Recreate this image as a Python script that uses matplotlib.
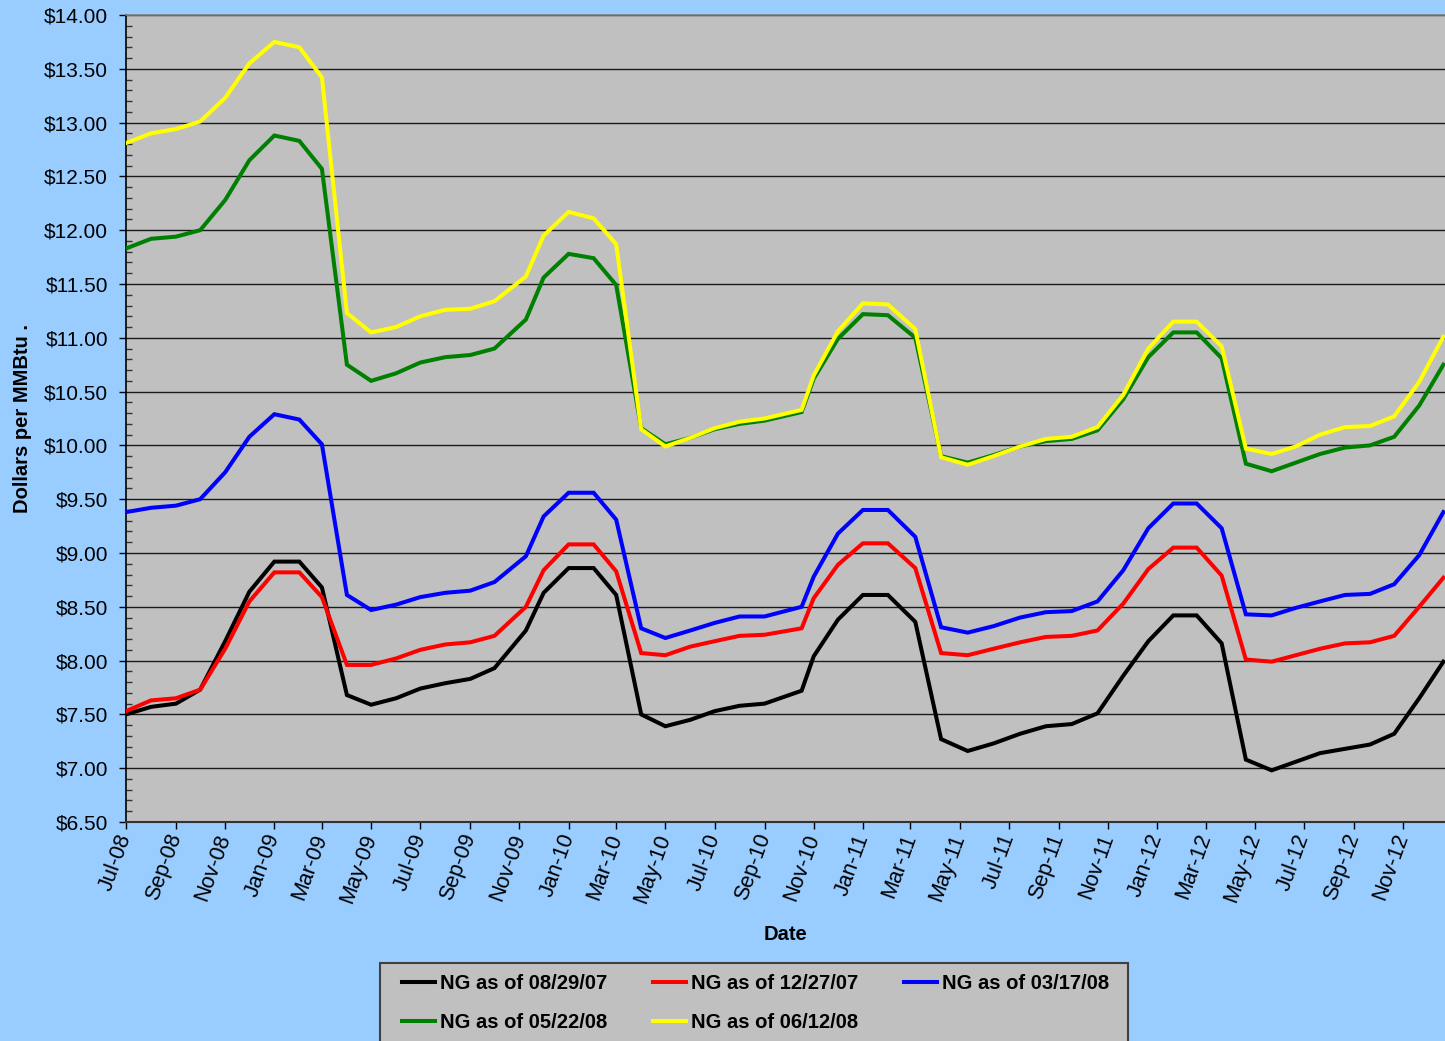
import matplotlib
matplotlib.use("Agg")
import matplotlib.pyplot as plt
import matplotlib.dates as mdates
from matplotlib.ticker import MultipleLocator, FuncFormatter
from matplotlib.patches import Rectangle
import datetime as dt

plt.rcParams['font.family'] = ['Liberation Sans', 'DejaVu Sans']

# ---- data ----
dates = [
    "2008-07-01", "2008-08-01", "2008-09-01", "2008-10-01", "2008-11-01", "2008-12-01",
    "2009-01-01", "2009-02-01", "2009-03-01", "2009-04-01", "2009-05-01", "2009-06-01",
    "2009-07-01", "2009-08-01", "2009-09-01", "2009-10-01", "2009-11-09", "2009-12-01",
    "2010-01-01", "2010-02-01", "2010-03-01", "2010-04-01", "2010-05-01", "2010-06-01",
    "2010-07-01", "2010-08-01", "2010-09-01", "2010-10-17", "2010-11-01", "2010-12-01",
    "2011-01-01", "2011-02-01", "2011-03-07", "2011-04-08", "2011-05-11", "2011-06-12",
    "2011-07-15", "2011-08-16", "2011-09-17", "2011-10-19", "2011-11-20", "2011-12-21",
    "2012-01-21", "2012-02-19", "2012-03-21", "2012-04-20", "2012-05-22", "2012-06-21",
    "2012-07-21", "2012-08-21", "2012-09-21", "2012-10-21", "2012-11-21", "2012-12-21",
]

ng_082907 = [7.50, 7.57, 7.60, 7.73, 8.18, 8.64,
             8.92, 8.92, 8.68, 7.68, 7.59, 7.65, 7.74, 7.79, 7.83, 7.93, 8.28, 8.63,
             8.86, 8.86, 8.61, 7.50, 7.39, 7.45, 7.53, 7.58, 7.60, 7.72, 8.04, 8.38,
             8.61, 8.61, 8.36, 7.27, 7.16, 7.23, 7.32, 7.39, 7.41, 7.51, 7.86, 8.18,
             8.42, 8.42, 8.16, 7.08, 6.98, 7.06, 7.14, 7.18, 7.22, 7.32, 7.65, 7.99]

ng_122707 = [7.53, 7.63, 7.65, 7.73, 8.11, 8.55,
             8.82, 8.82, 8.59, 7.96, 7.96, 8.02, 8.10, 8.15, 8.17, 8.23, 8.50, 8.84,
             9.08, 9.08, 8.83, 8.07, 8.05, 8.13, 8.18, 8.23, 8.24, 8.30, 8.58, 8.89,
             9.09, 9.09, 8.86, 8.07, 8.05, 8.11, 8.17, 8.22, 8.23, 8.28, 8.53, 8.85,
             9.05, 9.05, 8.79, 8.01, 7.99, 8.05, 8.11, 8.16, 8.17, 8.23, 8.50, 8.77]

ng_031708 = [9.38, 9.42, 9.44, 9.50, 9.75, 10.08,
             10.29, 10.24, 10.01, 8.61, 8.47, 8.52, 8.59, 8.63, 8.65, 8.73, 8.97, 9.34,
             9.56, 9.56, 9.31, 8.30, 8.21, 8.28, 8.35, 8.41, 8.41, 8.50, 8.78, 9.18,
             9.40, 9.40, 9.15, 8.31, 8.26, 8.32, 8.40, 8.45, 8.46, 8.55, 8.84, 9.23,
             9.46, 9.46, 9.23, 8.43, 8.42, 8.49, 8.55, 8.61, 8.62, 8.71, 8.98, 9.38]

ng_052208 = [11.83, 11.92, 11.94, 12.00, 12.28, 12.65,
             12.88, 12.83, 12.57, 10.75, 10.60, 10.67, 10.77, 10.82, 10.84, 10.90, 11.17, 11.56,
             11.78, 11.74, 11.49, 10.16, 10.01, 10.07, 10.15, 10.20, 10.23, 10.31, 10.62, 10.99,
             11.22, 11.21, 11.00, 9.90, 9.84, 9.91, 9.99, 10.04, 10.06, 10.14, 10.43, 10.82,
             11.05, 11.05, 10.81, 9.83, 9.76, 9.84, 9.92, 9.98, 10.00, 10.08, 10.37, 10.75]

ng_061208 = [12.81, 12.90, 12.94, 13.01, 13.23, 13.55,
             13.75, 13.70, 13.42, 11.23, 11.05, 11.10, 11.20, 11.26, 11.27, 11.34, 11.57, 11.95,
             12.17, 12.11, 11.87, 10.15, 9.99, 10.07, 10.16, 10.22, 10.25, 10.33, 10.65, 11.06,
             11.32, 11.31, 11.08, 9.89, 9.82, 9.90, 9.99, 10.06, 10.08, 10.17, 10.47, 10.90,
             11.15, 11.15, 10.92, 9.97, 9.92, 9.99, 10.10, 10.17, 10.18, 10.27, 10.59, 11.01]

series_labels = ["NG as of 08/29/07", "NG as of 12/27/07", "NG as of 03/17/08",
                 "NG as of 05/22/08", "NG as of 06/12/08"]
series_values = [ng_082907, ng_122707, ng_031708, ng_052208, ng_061208]
series_colors = ["#000000", "#FF0000", "#0000FF", "#008000", "#FFFF00"]

# ---- figure ----
W, H = 1445, 1041
fig = plt.figure(figsize=(W / 100, H / 100), dpi=100, facecolor="#99CCFF")
ax = fig.add_axes([126 / W, (H - 822) / H, (W - 126) / W, (822 - 15) / H])
ax.set_facecolor("#C0C0C0")

x = [dt.datetime.strptime(d, "%Y-%m-%d") for d in dates]
handles = []
for vals, lab, col in zip(series_values, series_labels, series_colors):
    h, = ax.plot(x, vals, color=col, lw=2.9, label=lab, solid_joinstyle="miter",
                 clip_on=True, zorder=3)
    handles.append(h)

ax.set_xlim(x[0], x[-1] + dt.timedelta(days=2))
ax.set_ylim(6.5, 14.0)

ax.yaxis.set_major_locator(MultipleLocator(0.5))
ax.yaxis.set_minor_locator(MultipleLocator(0.1))
ax.yaxis.set_major_formatter(FuncFormatter(lambda v, p: f"${v:.2f}"))
ax.grid(axis="y", which="major", color="#1a1a1a", lw=1.0, zorder=1)
ax.set_axisbelow(True)

ax.xaxis.set_major_locator(mdates.MonthLocator(bymonth=[1, 3, 5, 7, 9, 11]))
ax.xaxis.set_major_formatter(mdates.DateFormatter("%b-%y"))

ax.tick_params(axis="y", which="major", direction="out", length=5, width=1,
               labelsize=15, pad=8, colors="black")
ax.tick_params(axis="y", which="minor", direction="in", length=4, width=1, color="#333333")
ax.tick_params(axis="x", which="major", direction="out", length=5, width=1,
               labelsize=15.5, pad=4, colors="black")
for lbl in ax.get_xticklabels():
    lbl.set_rotation(70)
    lbl.set_ha("right")
    lbl.set_va("center")
    lbl.set_rotation_mode("anchor")

ax.spines["right"].set_visible(False)
ax.spines["top"].set_color("#808080")
ax.spines["top"].set_linewidth(1.2)
ax.spines["left"].set_color("black")
ax.spines["left"].set_linewidth(1.2)
ax.spines["bottom"].set_color("#333333")
ax.spines["bottom"].set_linewidth(1.5)

ax.set_xlabel("Date", fontsize=14.5, fontweight="bold", va="center")
ax.xaxis.set_label_coords(0.5, (822 - 934) / 807)
ax.set_ylabel("Dollars per MMBtu .", fontsize=14.5, fontweight="bold", va="center")
ax.yaxis.set_label_coords((23 - 126) / 1319, 0.5)

# ---- legend ----
frame = Rectangle((380 / W, -0.05), (1128 - 380) / W, (1 - 962.7 / H) + 0.05,
                  transform=fig.transFigure, facecolor="#C0C0C0", edgecolor="#404040",
                  lw=1.5, zorder=0)
fig.patches.append(frame)

order = [0, 3, 1, 4, 2]
leg = fig.legend([handles[i] for i in order], [series_labels[i] for i in order],
                 ncol=3, loc="upper left", bbox_to_anchor=(402 / W, 1 - 974 / H),
                 frameon=False, borderpad=0, borderaxespad=0,
                 handlelength=1.65, handletextpad=0.25, columnspacing=2.25,
                 labelspacing=1.0, prop={"size": 14.5, "weight": "bold"})

fig.savefig("out.png", dpi=100, facecolor=fig.get_facecolor())
